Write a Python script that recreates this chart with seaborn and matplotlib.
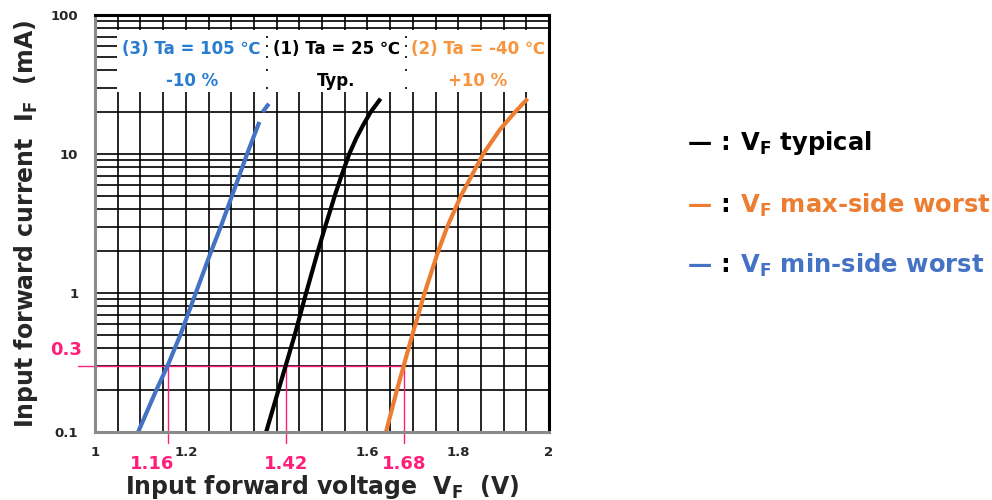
import numpy as np
import pandas as pd
import matplotlib
matplotlib.use("Agg")
import matplotlib.pyplot as plt
import seaborn as sns

# Forward current (mA) and forward voltage (V)
if_typ = [0.1, 0.2, 0.3, 0.5, 1, 2, 3, 4, 5, 7, 10, 13, 16, 20, 25]
vf_typ = [1.377, 1.404, 1.420, 1.440, 1.465, 1.491, 1.507, 1.519, 1.528,
          1.543, 1.560, 1.5755, 1.590, 1.607, 1.629]

if_max = [0.1, 0.2, 0.3, 0.5, 1, 2, 3, 5, 10, 15, 20, 25]
vf_max = [1.641, 1.665, 1.680, 1.699, 1.726, 1.756, 1.776, 1.806, 1.855,
          1.892, 1.925, 1.953]

if_min = [0.1, 0.2, 0.3, 0.5, 1, 2, 3, 4, 10, 17]
vf_min = [1.095, 1.135, 1.160, 1.188, 1.222, 1.256, 1.277, 1.291, 1.335, 1.362]
# extrapolated tail of the min-side curve (drawn after a short gap)
if_min_tail = [20, 23]
vf_min_tail = [1.369, 1.383]

# Operating point marked on the chart
if_op = 0.3
vf_op = [1.16, 1.42, 1.68]
vf_op_labels = ["1.16", "1.42", "1.68"]

x_ticks = [1, 1.2, 1.6, 1.8, 2]
x_tick_labels = ["1", "1.2", "1.6", "1.8", "2"]
y_ticks = [0.1, 1, 10, 100]
y_tick_labels = ["0.1", "1", "10", "100"]

headers = [("(3) Ta = 105 \u2103", "-10 %"),
           ("(1) Ta = 25 \u2103", "Typ."),
           ("(2) Ta = -40 \u2103", "+10 %")]
legend_names = ["typical", "max-side worst", "min-side worst"]

BLUE = "#4472c4"
ORANGE = "#ed7d31"
BLACK = "#000000"
PINK = "#ff1f7a"
HDR_BLUE = "#2a7ccf"
HDR_ORANGE = "#f7953f"

sns.set_style("white")
plt.rcParams["font.family"] = ["DejaVu Sans", "Noto Sans CJK JP"]
plt.rcParams["mathtext.fontset"] = "dejavusans"

df = pd.concat([
    pd.DataFrame({"VF": vf_typ, "IF": if_typ, "curve": "typ"}),
    pd.DataFrame({"VF": vf_max, "IF": if_max, "curve": "max"}),
    pd.DataFrame({"VF": vf_min, "IF": if_min, "curve": "min"}),
])
df_tail = pd.DataFrame({"VF": vf_min_tail, "IF": if_min_tail, "curve": "min"})
palette = {"typ": BLACK, "max": ORANGE, "min": BLUE}

fig = plt.figure(figsize=(9.92, 5.0), dpi=100)
ax = fig.add_axes([95 / 992, 68 / 500, 454 / 992, 417 / 500])
ax.set_yscale("log")
ax.set_xlim(1, 2)
ax.set_ylim(0.1, 100)

# log-paper grid
for xv in np.arange(1.05, 1.999, 0.05):
    ax.axvline(xv, color="black", lw=1.2, zorder=1)
for dec in [0.1, 1, 10]:
    for m in range(1, 10):
        yv = dec * m
        if yv > 0.1:
            ax.axhline(yv, color="black", lw=1.2, zorder=1)

# header boxes hiding the grid behind the condition labels
box_x = [(1.048, 1.376), (1.381, 1.682), (1.687, 2.0)]
for x0, x1 in box_x:
    ax.fill_between([x0, x1], 28, 78, color="white", zorder=2, lw=0)

sns.lineplot(data=df, x="VF", y="IF", hue="curve", palette=palette,
             sort=False, estimator=None, lw=3.0, legend=False, ax=ax, zorder=5)
sns.lineplot(data=df_tail, x="VF", y="IF", color=BLUE, sort=False,
             estimator=None, lw=3.0, legend=False, ax=ax, zorder=5)
for line in ax.lines[-4:]:
    line.set_solid_capstyle("butt")
    line.set_solid_joinstyle("round")

# operating point guides
ax.plot([0.9626, vf_op[-1]], [if_op, if_op], color=PINK, lw=1.0,
        clip_on=False, zorder=4)
for v, lab in zip(vf_op, vf_op_labels):
    ax.plot([v, v], [if_op, 0.0834], color=PINK, lw=1.0, clip_on=False, zorder=4)
    ax.text(v - (0.035 if lab == "1.16" else 0.0), 0.0585, lab, color=PINK,
            fontsize=13, fontweight="bold", ha="center", va="center")
ax.text(0.9365, 0.39, "0.3", color=PINK, fontsize=13, fontweight="bold",
        ha="center", va="center")

# condition labels
centers = [1.213, 1.532, 1.843]
colors = [HDR_BLUE, BLACK, HDR_ORANGE]
for (l1, l2), cx, c in zip(headers, centers, colors):
    ax.text(cx, 57, l1, color=c, fontsize=12, fontweight="bold",
            ha="center", va="center", zorder=6)
    ax.text(cx, 33.5, l2, color=c, fontsize=12, fontweight="bold",
            ha="center", va="center", zorder=6)

ax.set_xticks(x_ticks)
ax.set_xticklabels(x_tick_labels, fontsize=9.5, fontweight="bold")
ax.set_yticks(y_ticks)
ax.set_yticklabels(y_tick_labels, fontsize=9.5, fontweight="bold")
ax.minorticks_off()
ax.tick_params(axis="x", length=0, pad=10)
ax.tick_params(axis="y", length=0, pad=12)

ax.set_xlabel(r"Input forward voltage  $\mathbf{V_F}$  (V)", fontsize=17,
              fontweight="bold", labelpad=10)
ax.set_ylabel(r"Input forward current  $\mathbf{I_F}$  (mA)", fontsize=17,
              fontweight="bold", labelpad=8)

for side in ["left", "bottom"]:
    ax.spines[side].set_color("#8a8a8a")
    ax.spines[side].set_linewidth(2.2)
for side in ["top", "right"]:
    ax.spines[side].set_color("black")
    ax.spines[side].set_linewidth(2.2)
for sp in ax.spines.values():
    sp.set_zorder(7)

# legend drawn as text lines on the right
leg_colors = [BLACK, ORANGE, BLUE]
leg_y = [143, 205, 265]
for name, c, yy in zip(legend_names, leg_colors, leg_y):
    fig.text(688 / 992, 1 - yy / 500, "\u2014", color=c, fontsize=17.5,
             fontweight="bold", va="center", ha="left")
    fig.text(720 / 992, 1 - yy / 500, ":", color=BLACK, fontsize=17.5,
             fontweight="bold", va="center", ha="left")
    fig.text(740 / 992, 1 - yy / 500, r"$\mathbf{V_F}$ " + name, color=c,
             fontsize=17.5, fontweight="bold", va="center", ha="left")

fig.savefig("out.png", dpi=100)
